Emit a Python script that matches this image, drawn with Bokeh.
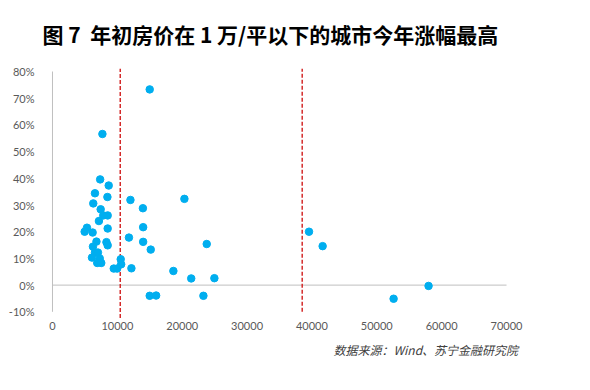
from bokeh.plotting import figure
from bokeh.models import FixedTicker, ColumnDataSource, Range1d, Title
from bokeh.embed import file_html
from bokeh.resources import INLINE

# 年初房价 (元/平) and 今年涨幅 (%)
price = [14990, 7700, 7350, 8670, 6550, 8470, 12020, 20340, 6290, 13940,
         7430, 7830, 8510, 7160, 5320, 4960, 6190, 8510, 11790, 13980,
         6780, 8320, 8510, 6240, 13980, 15150, 6550, 7010, 6090, 7290,
         6900, 7520, 10520, 10590, 9450, 9970, 12170, 18640, 21390, 24960,
         14990, 15980, 23270, 23780, 39550, 41650, 52590, 57980]
growth = [73.3, 56.6, 39.6, 37.3, 34.4, 33.0, 31.9, 32.3, 30.6, 28.8,
          28.4, 26.1, 26.1, 24.0, 21.5, 20.0, 19.7, 21.2, 17.8, 21.7,
          16.3, 16.1, 14.9, 14.4, 16.2, 13.3, 12.2, 12.2, 10.3, 10.0,
          8.3, 8.3, 9.7, 7.8, 6.2, 6.2, 6.3, 5.3, 2.5, 2.6,
          -4.0, -3.9, -4.0, 15.4, 20.0, 14.6, -5.1, -0.3]

x_ticks = [0, 10000, 20000, 30000, 40000, 50000, 60000, 70000]
y_ticks = [-10, 0, 10, 20, 30, 40, 50, 60, 70, 80]
y_tick_labels = ["-10%", "0%", "10%", "20%", "30%", "40%", "50%", "60%", "70%", "80%"]
thresholds = [10450, 38500]
threshold_bottom = [-12.3, -10]
threshold_top = [81, 81]

title_text = "图 7\u00a0\u00a0年初房价在 1 万/平以下的城市今年涨幅最高"
source_text = "数据来源：Wind、苏宁金融研究院"

p = figure(width=590, height=390, output_backend="svg", toolbar_location=None,
           x_range=Range1d(-150, 70150), y_range=Range1d(-12.5, 81.5),
           min_border_left=51, min_border_right=83, min_border_top=67,
           min_border_bottom=72)
p.outline_line_color = None
p.grid.visible = False
p.background_fill_color = "white"
p.border_fill_color = "white"

tick_font = "Lato"
tick_color = "#595959"

p.xaxis.ticker = FixedTicker(ticks=x_ticks)
p.xaxis.major_label_overrides = {t: str(t) for t in x_ticks}
p.yaxis.ticker = FixedTicker(ticks=y_ticks)
p.yaxis.major_label_overrides = dict(zip(y_ticks, y_tick_labels))
for ax in (p.xaxis, p.yaxis):
    ax.axis_line_color = None
    ax.major_tick_line_color = None
    ax.minor_tick_line_color = None
    ax.major_label_text_font = tick_font
    ax.major_label_text_font_size = "11px"
    ax.major_label_text_color = tick_color
p.yaxis.major_label_standoff = 11
p.xaxis.major_label_standoff = -3

# axis lines: vertical at x=0 and horizontal at y=0
p.segment(x0=[x_ticks[0]], y0=[y_ticks[0]], x1=[x_ticks[0]], y1=[y_ticks[-1]],
          line_color="#BFBFBF", line_width=1)
p.segment(x0=[x_ticks[0]], y0=[0], x1=[x_ticks[-1]], y1=[0],
          line_color="#BFBFBF", line_width=1)

# threshold dashed lines
p.segment(x0=thresholds, y0=threshold_bottom, x1=thresholds, y1=threshold_top,
          line_color="#D42A2A", line_width=1.5, line_dash="4 2")

src = ColumnDataSource(dict(x=price, y=growth))
p.scatter("x", "y", source=src, size=7.5, fill_color="#00AEEF",
          line_color="#00AEEF", marker="circle")

title = Title(text=title_text, text_font="Noto Sans CJK SC",
              text_font_size="21px", text_font_style="bold", text_color="black",
              align="left", offset=-9, standoff=34, vertical_align="top")
p.add_layout(title, "above")

source = Title(text=source_text, text_font="Noto Sans CJK SC",
               text_font_size="12px", text_font_style="italic", text_color="#404040",
               align="left", offset=282, standoff=12)
p.add_layout(source, "below")

open("out.html", "w").write(file_html(p, INLINE))
